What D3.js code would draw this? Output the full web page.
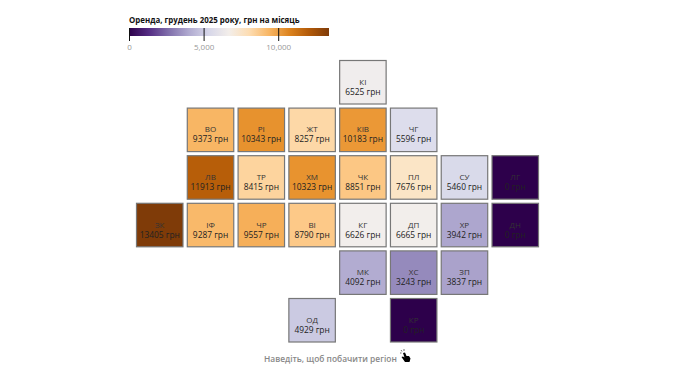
<!DOCTYPE html>
<html>
<head>
<meta charset="utf-8">
<script src="https://cdn.jsdelivr.net/npm/d3@7"></script>
<style>
  html, body { margin: 0; background: #fff; }
  text { font-family: "Open Sans", "Noto Sans", sans-serif; }
</style>
</head>
<body>
<div id="chart"></div>
<script>
// region codes, values (грн) and their place on the tile grid
const regions = ["КІ","ВО","РІ","ЖТ","КІВ","ЧГ","ЛВ","ТР","ХМ","ЧК","ПЛ","СУ","ЛГ","ЗК","ІФ","ЧР","ВІ","КГ","ДП","ХР","ДН","МК","ХС","ЗП","ОД","КР"];
const rents = [6525,9373,10343,8257,10183,5596,11913,8415,10323,8851,7676,5460,0,13405,9287,9557,8790,6626,6665,3942,0,4092,3243,3837,4929,0];
const cols = [4,1,2,3,4,5,1,2,3,4,5,6,7,0,1,2,3,4,5,6,7,4,5,6,3,5];
const rows = [0,1,1,1,1,1,2,2,2,2,2,2,2,3,3,3,3,3,3,3,3,4,4,4,5,5];
const legendTicks = [0,5000,10000];
const maxRent = 13405;

const width = 682, height = 382;
const svg = d3.select('#chart').append('svg')
    .attr('width', width)
    .attr('height', height)
    .style('display', 'block');

const color = d3.scaleSequential(d3.interpolatePuOr).domain([0, maxRent]);

// legend
const legendX = d3.scaleLinear().domain([0, maxRent]).range([129, 329]);
const grad = svg.append('defs').append('linearGradient').attr('id', 'legendGrad');
d3.range(0, 1.01, 0.1).forEach(t => {
    grad.append('stop').attr('offset', t).attr('stop-color', d3.interpolatePuOr(t));
});

svg.append('text')
    .attr('x', 129)
    .attr('y', 23)
    .attr('font-size', 7.9)
    .attr('font-weight', 700)
    .attr('fill', '#111')
    .text('Оренда, грудень 2025 року, грн на місяць');

svg.append('rect')
    .attr('x', 129)
    .attr('y', 28)
    .attr('width', 200)
    .attr('height', 8)
    .attr('fill', 'url(#legendGrad)');

const legendAxis = svg.append('g')
    .attr('transform', 'translate(0,28)')
    .call(d3.axisBottom(legendX).tickValues(legendTicks).tickSize(13).tickFormat(d3.format(',')));
legendAxis.select('.domain').remove();
legendAxis.selectAll('line').attr('stroke', '#111');
legendAxis.selectAll('text')
    .attr('y', 16)
    .attr('font-size', 8)
    .attr('font-family', '"Open Sans", sans-serif')
    .attr('fill', '#999');

// tile grid
const x = d3.scaleBand().domain(d3.range(8)).range([136.5, 538.5]).paddingInner(0.085);
const y = d3.scaleBand().domain(d3.range(6)).range([60.5, 342]).paddingInner(0.086);

const tiles = svg.selectAll('g.tile')
    .data(regions.map((r, i) => ({ name: r, rent: rents[i], col: cols[i], row: rows[i] })))
    .enter().append('g')
    .classed('tile', true)
    .attr('transform', d => `translate(${x(d.col)},${y(d.row)})`);

tiles.append('rect')
    .attr('width', x.bandwidth())
    .attr('height', y.bandwidth())
    .attr('fill', d => color(d.rent))
    .attr('stroke', '#777')
    .attr('stroke-width', 1.2);

tiles.append('text')
    .attr('x', x.bandwidth() / 2)
    .attr('y', y.bandwidth() / 2 + 2.5)
    .attr('text-anchor', 'middle')
    .attr('font-size', 8)
    .attr('fill', '#333')
    .text(d => d.name);

tiles.append('text')
    .attr('x', x.bandwidth() / 2)
    .attr('y', y.bandwidth() / 2 + 12.5)
    .attr('text-anchor', 'middle')
    .attr('font-size', 8.4)
    .attr('fill', '#222')
    .text(d => d.rent + ' грн');

svg.append('text')
    .attr('x', 264)
    .attr('y', 362)
    .attr('font-size', 8.4)
    .attr('font-weight', 600)
    .attr('fill', '#888')
    .text('Наведіть, щоб побачити регіон');

// little pointer icon next to the hint
const hand = svg.append('g').attr('transform', 'translate(400,349)');
hand.append('path')
    .attr('d', 'M3 4 L5 3.5 L6.5 7 L9 7 L10.5 9.5 L9.5 13 L5 13 L1.5 8 L3 7.5 L4.5 8.5 Z')
    .attr('fill', '#000');
hand.append('path')
    .attr('d', 'M1 1 L2 2.5 M4 0 L4 2 M0 4 L1.5 4')
    .attr('stroke', '#333')
    .attr('stroke-width', 0.7);
</script>
</body>
</html>
